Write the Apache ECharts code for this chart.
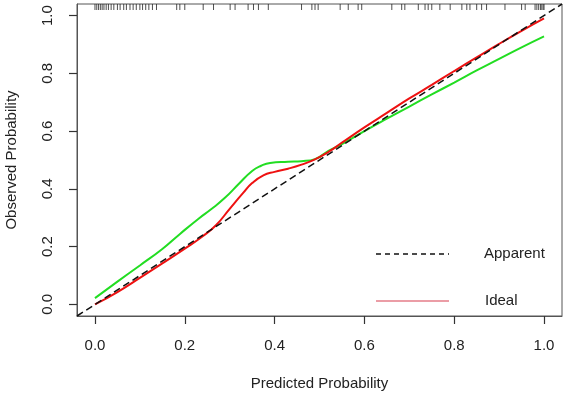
<!DOCTYPE html>
<html>
<head>
<meta charset="utf-8">
<title>Calibration curve</title>
<script src="https://cdn.jsdelivr.net/npm/echarts@6/dist/echarts.min.js"></script>
<style>
    body { margin: 0; background: #fff; }
    #main { width: 567px; height: 396px; }
</style>
</head>
<body>
<div id="main"></div>
<script>
// red curve
let idealX = [0, 0.05, 0.10, 0.15, 0.20, 0.24, 0.27, 0.30, 0.33, 0.35, 0.375, 0.40, 0.43, 0.46, 0.49, 0.52, 0.55, 0.60, 0.65, 0.70, 0.75, 0.80, 0.85, 0.90, 0.95, 1.00];
let idealY = [0.0, 0.043, 0.092, 0.142, 0.193, 0.236, 0.275, 0.331, 0.386, 0.420, 0.447, 0.459, 0.470, 0.484, 0.502, 0.528, 0.560, 0.613, 0.663, 0.713, 0.760, 0.808, 0.855, 0.902, 0.947, 0.990];
// green curve (not in legend)
let greenX = [0, 0.05, 0.10, 0.15, 0.19, 0.23, 0.26, 0.29, 0.32, 0.35, 0.37, 0.39, 0.43, 0.46, 0.49, 0.52, 0.55, 0.60, 0.65, 0.70, 0.75, 0.80, 0.85, 0.90, 0.95, 1.00];
let greenY = [0.022, 0.079, 0.135, 0.192, 0.245, 0.296, 0.331, 0.370, 0.417, 0.462, 0.480, 0.490, 0.494, 0.496, 0.503, 0.532, 0.555, 0.600, 0.643, 0.685, 0.727, 0.768, 0.810, 0.850, 0.890, 0.928];
// dashed reference line
let apparentX = [-0.04, 1.04];
let apparentY = [-0.04, 1.04];
// rug of predicted values at the top
let rugX = [0.0, 0.004, 0.008, 0.012, 0.016, 0.02, 0.025, 0.03, 0.036, 0.042, 0.05, 0.056, 0.064, 0.07, 0.078,
    0.085, 0.092, 0.1, 0.106, 0.113, 0.12, 0.128, 0.137, 0.182, 0.189, 0.200, 0.241, 0.264, 0.301, 0.312,
    0.341, 0.353, 0.364, 0.386, 0.460, 0.483, 0.490, 0.497, 0.546, 0.564, 0.586, 0.594, 0.661, 0.683, 0.690,
    0.720, 0.735, 0.742, 0.750, 0.768, 0.791, 0.817, 0.828, 0.835, 0.850, 0.861, 0.872, 0.913, 0.950, 0.958,
    0.980, 0.984, 0.988, 0.992, 0.995, 0.998, 1.0];
let tickValues = [0, 0.2, 0.4, 0.6, 0.8, 1.0];

function pairs(xs, ys) {
    return xs.map(function (x, i) { return [x, ys[i]]; });
}

let font = "'Liberation Sans', Arial, sans-serif";
let textColor = '#222';

let myChart = echarts.init(document.getElementById('main'));
myChart.setOption({
    animation: false,
    grid: {
        left: 77, right: 5, top: 4, height: 312,
        outerBoundsMode: 'none', containLabel: false,
        show: true, borderColor: '#555', borderWidth: 1
    },
    xAxis: {
        type: 'value', min: -0.04, max: 1.04,
        name: 'Predicted Probability', nameLocation: 'middle', nameGap: 60,
        nameTextStyle: { fontSize: 15, color: textColor, fontFamily: font },
        axisLine: { show: true, onZero: false, lineStyle: { color: '#555', width: 1 } },
        splitLine: { show: false },
        axisTick: { show: true, inside: false, length: 8, customValues: tickValues, lineStyle: { color: '#333', width: 1.2 } },
        axisLabel: {
            customValues: tickValues, margin: 22, fontSize: 15, color: textColor, fontFamily: font,
            formatter: function (v) { return v.toFixed(1); }
        }
    },
    yAxis: {
        type: 'value', min: -0.04, max: 1.04,
        name: 'Observed Probability', nameLocation: 'middle', nameGap: 58,
        nameTextStyle: { fontSize: 15, color: textColor, fontFamily: font },
        axisLine: { show: true, onZero: false, lineStyle: { color: '#555', width: 1 } },
        splitLine: { show: false },
        axisTick: { show: true, inside: false, length: 8, customValues: tickValues, lineStyle: { color: '#333', width: 1.2 } },
        axisLabel: {
            customValues: tickValues, rotate: 90, margin: 22, fontSize: 15, color: textColor, fontFamily: font,
            formatter: function (v) { return v.toFixed(1); }
        }
    },
    series: [
        {
            name: 'Bias-corrected', type: 'line', data: pairs(greenX, greenY),
            smooth: true, symbol: 'none', lineStyle: { color: '#22dd22', width: 2 }
        },
        {
            name: 'Ideal', type: 'line', data: pairs(idealX, idealY),
            smooth: true, symbol: 'none', lineStyle: { color: '#ee1111', width: 2 }
        },
        {
            name: 'Apparent', type: 'line', data: pairs(apparentX, apparentY),
            symbol: 'none', lineStyle: { color: '#111', width: 1.5, type: [7, 4] }
        },
        {
            name: 'rug', type: 'scatter', data: rugX.map(function (x) { return [x, 1.03]; }),
            symbol: 'rect', symbolSize: [1, 6], itemStyle: { color: '#222' }
        }
    ],
    graphic: [
        { type: 'line', shape: { x1: 376, y1: 254, x2: 449, y2: 254 },
          style: { stroke: '#111', lineWidth: 1.5, lineDash: [5, 4] } },
        { type: 'text', x: 484, y: 254,
          style: { text: 'Apparent', fontSize: 15, fontFamily: font, fill: textColor, verticalAlign: 'middle' } },
        { type: 'line', shape: { x1: 376, y1: 301, x2: 449, y2: 301 },
          style: { stroke: '#e57c88', lineWidth: 1.5 } },
        { type: 'text', x: 485, y: 301,
          style: { text: 'Ideal', fontSize: 15, fontFamily: font, fill: textColor, verticalAlign: 'middle' } }
    ]
});
</script>
</body>
</html>
